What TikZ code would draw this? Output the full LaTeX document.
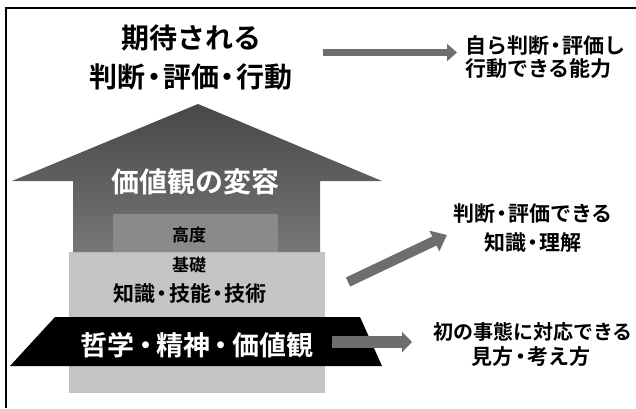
\documentclass[tikz,border=0pt]{standalone}
\usepackage{fontspec}
\setmainfont{Noto Sans CJK JP}[BoldFont={Noto Sans CJK JP Bold}]
\usetikzlibrary{arrows.meta}
\newcommand\jdot{\kern-0.19em・\kern-0.19em}
\definecolor{roofdark}{RGB}{72,72,72}
\definecolor{walllight}{RGB}{118,118,118}
\definecolor{innerbox}{RGB}{138,138,138}
\definecolor{basegray}{RGB}{196,196,196}
\definecolor{arrowgray}{RGB}{110,110,110}
\tikzset{
  txt/.style={inner sep=0pt, anchor=base, font=\bfseries},
  txtl/.style={inner sep=0pt, anchor=base west, font=\bfseries},
}
\begin{document}
\begin{tikzpicture}[x=1pt,y=-1pt]
\useasboundingbox (0,0) rectangle (636,408);
% frame
\draw[line width=1.5pt] (6,408) -- (6,8) -- (636,8);
% base layer
\fill[basegray] (69,252) rectangle (325,393);
% house
\shade[top color=roofdark, bottom color=walllight]
  (12,181) -- (198,104) -- (382,181) -- (320,181) -- (320,252) -- (73,252) -- (73,181) -- cycle;
\fill[innerbox] (113,214) rectangle (278,252);
% banner
\fill[black] (55,317) -- (360,317) -- (382,366) -- (10,366) -- cycle;

% texts
\node[txt, font=\bfseries\fontsize{28}{28}\selectfont] (t1) at (191,48.5) {期待される};
\node[txt, font=\bfseries\fontsize{28}{28}\selectfont] (t2) at (191,87.5) {判断\jdot 評価\jdot 行動};
\node[txtl, font=\bfseries\fontsize{21}{21}\selectfont] (r1) at (465,53) {自ら判断\jdot 評価し};
\node[txtl, font=\bfseries\fontsize{21}{21}\selectfont] (r2) at (465,76) {行動できる能力};
\node[txt, font=\bfseries\fontsize{21}{21}\selectfont] (m1) at (533,221) {判断\jdot 評価できる};
\node[txt, font=\bfseries\fontsize{21}{21}\selectfont] (m2) at (533,250) {知識\jdot 理解};
\node[txt, font=\bfseries\fontsize{20}{20}\selectfont] (b1) at (533,339.6) {初の事態に対応できる};
\node[txt, font=\bfseries\fontsize{21}{21}\selectfont] (b2) at (531,364) {見方\jdot 考え方};
\node[txt, text=white, font=\bfseries\fontsize{28}{28}\selectfont] (h1) at (195,192.6) {価値観の変容};
\node[txt, font=\bfseries\fontsize{17}{17}\selectfont] (h2) at (189,241.5) {高度};
\node[txt, font=\bfseries\fontsize{17}{17}\selectfont] (h3) at (189,271.5) {基礎};
\node[txt, font=\bfseries\fontsize{21}{21}\selectfont] (h4) at (190,301) {知識\jdot 技能\jdot 技術};
\node[txt, text=white, font=\bfseries\fontsize{27}{27}\selectfont] (h5) at (197,355.3) {哲学\kern-0.1em・\kern-0.1em 精神\kern-0.1em・\kern-0.1em 価値観};

% arrows
\coordinate (a1s) at (323,52.5);
\coordinate (a1e) at (457,52.5);
\coordinate (a2s) at (348,282);
\coordinate (a2e) at (447,235);
\coordinate (a3s) at (332,342);
\coordinate (a3e) at (412,342);
\draw[arrowgray, line width=7pt, -{Triangle[width=17pt,length=10pt]}] (a1s) -- (a1e);
\draw[arrowgray, line width=10pt, -{Triangle[width=22pt,length=14pt]}] (a2s) -- (a2e);
\draw[arrowgray, line width=12pt, -{Triangle[width=20pt,length=10pt]}] (a3s) -- (a3e);
\end{tikzpicture}
\end{document}
